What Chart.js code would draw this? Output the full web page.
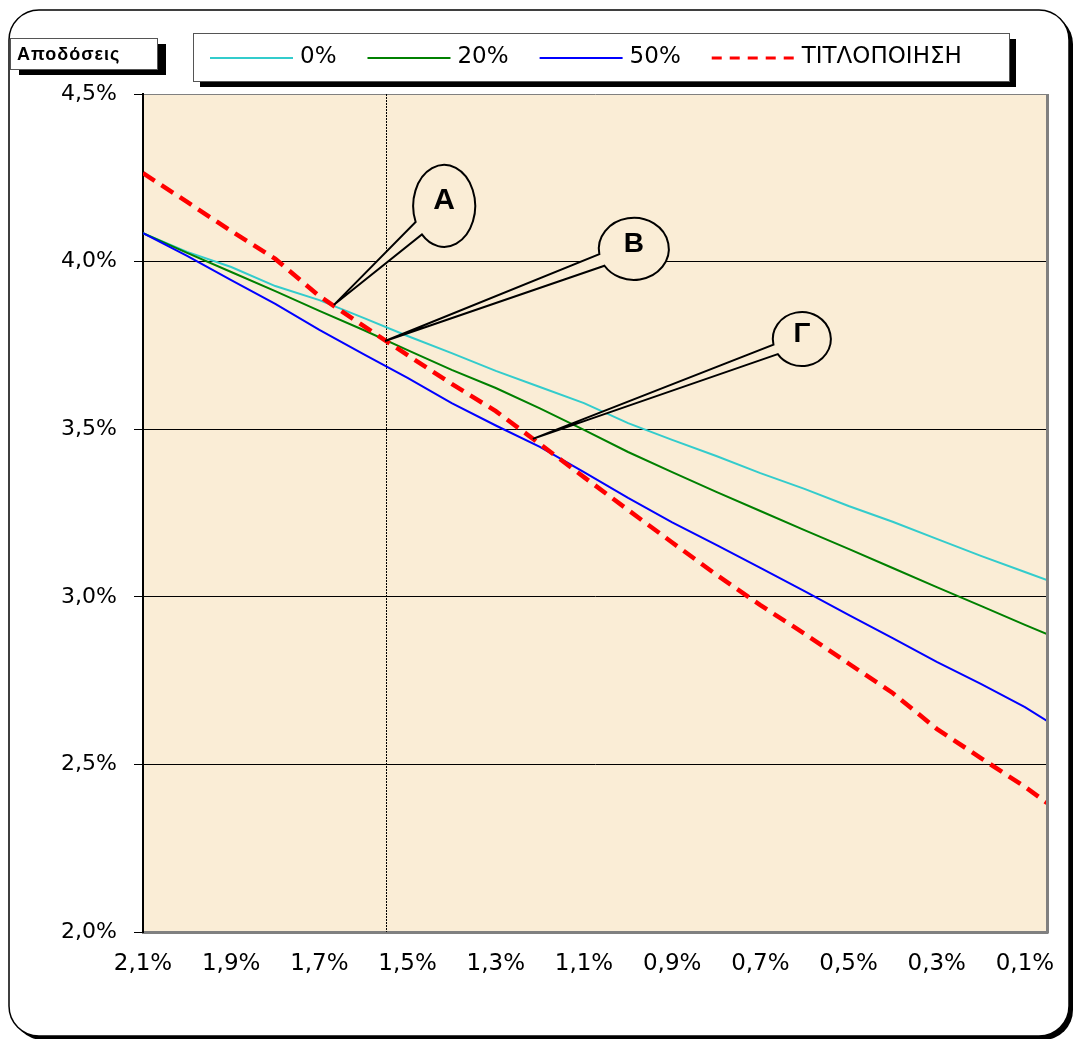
<!DOCTYPE html>
<html>
<head>
<meta charset="utf-8">
<script src="https://cdn.jsdelivr.net/npm/chart.js@4.4.1/dist/chart.umd.min.js"></script>
<style>
  html, body { margin: 0; padding: 0; background: #fff; }
  #wrap { width: 1078px; height: 1039px; position: relative; }
</style>
</head>
<body>
<div id="wrap"><canvas id="chart-yields"></canvas></div>
<script>
// x values (% rate, decreasing from left to right)
const xValues = [2.1, 2.0, 1.9, 1.8, 1.7, 1.6, 1.5, 1.4, 1.3, 1.2, 1.1, 1.0, 0.9, 0.8, 0.7, 0.6, 0.5, 0.4, 0.3, 0.2, 0.1, 0.05];
const xTickValues = [2.1, 1.9, 1.7, 1.5, 1.3, 1.1, 0.9, 0.7, 0.5, 0.3, 0.1];
const yTickValues = [2.0, 2.5, 3.0, 3.5, 4.0, 4.5];

const seriesLabels = ['0%', '20%', '50%', 'ΤΙΤΛΟΠΟΙΗΣΗ'];
const yield0 = [4.085, 4.029, 3.984, 3.927, 3.885, 3.832, 3.778, 3.727, 3.674, 3.626, 3.578, 3.518, 3.468, 3.420, 3.369, 3.322, 3.271, 3.224, 3.173, 3.122, 3.074, 3.050];
const yield20 = [4.085, 4.026, 3.969, 3.912, 3.853, 3.796, 3.736, 3.677, 3.623, 3.562, 3.498, 3.432, 3.372, 3.313, 3.256, 3.199, 3.143, 3.086, 3.029, 2.973, 2.916, 2.889];
const yield50 = [4.085, 4.017, 3.945, 3.874, 3.796, 3.724, 3.653, 3.578, 3.511, 3.447, 3.372, 3.295, 3.222, 3.155, 3.086, 3.017, 2.946, 2.877, 2.806, 2.740, 2.671, 2.630];
const yieldSecur = [4.264, 4.178, 4.091, 4.008, 3.897, 3.808, 3.721, 3.635, 3.554, 3.456, 3.357, 3.259, 3.162, 3.066, 2.975, 2.890, 2.801, 2.713, 2.606, 2.519, 2.433, 2.385];

// vertical marker and callouts, in data units
const markerX = 1.55;
const calloutLabels = ['Α', 'Β', 'Γ'];
const calloutTargetX = [1.667, 1.551, 1.216];
const calloutTargetY = [3.871, 3.763, 3.471];
const calloutCenterX = [1.417, 0.987, 0.606];
const calloutCenterY = [4.166, 4.038, 3.769];

const PLOT_BG = '#FAEDD6';
const TICK_FONT = "'DejaVu Sans', sans-serif";

function pts(ys) {
    return xValues.map((x, i) => ({ x: x, y: ys[i] }));
}

function fmtPct(v) {
    return Number(v).toFixed(1).replace('.', ',') + '%';
}

function roundRect(ctx, x, y, w, h, r) {
    ctx.beginPath();
    ctx.moveTo(x + r, y);
    ctx.lineTo(x + w - r, y);
    ctx.arcTo(x + w, y, x + w, y + r, r);
    ctx.lineTo(x + w, y + h - r);
    ctx.arcTo(x + w, y + h, x + w - r, y + h, r);
    ctx.lineTo(x + r, y + h);
    ctx.arcTo(x, y + h, x, y + h - r, r);
    ctx.lineTo(x, y + r);
    ctx.arcTo(x, y, x + r, y, r);
    ctx.closePath();
}

function shadowBox(ctx, x, y, w, h, dx, dy) {
    ctx.fillStyle = '#000';
    ctx.fillRect(x + dx, y + dy, w, h);
    ctx.fillStyle = '#fff';
    ctx.fillRect(x, y, w, h);
    ctx.strokeStyle = '#555';
    ctx.lineWidth = 1;
    ctx.strokeRect(x + 0.5, y + 0.5, w, h);
}

// pointer size/shape of each callout (pixels, degrees)
const calloutShape = [
    { rx: 31, ry: 41, a1: 136, a2: 157, font: 30 },
    { rx: 35, ry: 31, a1: 147, a2: 170, font: 28 },
    { rx: 29, ry: 27, a1: 146, a2: 168, font: 28 }
];

const framePlugin = {
    id: 'frame',
    beforeDraw(chart) {
        const ctx = chart.ctx;
        const a = chart.chartArea;
        ctx.save();
        ctx.fillStyle = '#fff';
        ctx.fillRect(0, 0, chart.width, chart.height);
        // outer rounded frame with shadow
        roundRect(ctx, 13, 14, 1060, 1026, 30);
        ctx.fillStyle = '#000';
        ctx.fill();
        roundRect(ctx, 9, 10, 1060, 1026, 30);
        ctx.fillStyle = '#fff';
        ctx.fill();
        ctx.strokeStyle = '#000';
        ctx.lineWidth = 1.5;
        ctx.stroke();
        // plot background
        ctx.fillStyle = PLOT_BG;
        ctx.fillRect(a.left, a.top, a.right - a.left, a.bottom - a.top);
        ctx.restore();
    },
    beforeDatasetsDraw(chart) {
        const ctx = chart.ctx;
        const a = chart.chartArea;
        const px = chart.scales.x.getPixelForValue(markerX);
        ctx.save();
        ctx.strokeStyle = '#000';
        ctx.lineWidth = 1;
        ctx.setLineDash([2, 1]);
        ctx.beginPath();
        ctx.moveTo(Math.round(px) + 0.5, a.top);
        ctx.lineTo(Math.round(px) + 0.5, a.bottom);
        ctx.stroke();
        ctx.restore();
    },
    afterDatasetsDraw(chart) {
        const ctx = chart.ctx;
        const xs = chart.scales.x, ys = chart.scales.y;
        ctx.save();
        calloutLabels.forEach((lab, i) => {
            const s = calloutShape[i];
            const cx = xs.getPixelForValue(calloutCenterX[i]);
            const cy = ys.getPixelForValue(calloutCenterY[i]);
            const tx = xs.getPixelForValue(calloutTargetX[i]);
            const ty = ys.getPixelForValue(calloutTargetY[i]);
            const a1 = s.a1 * Math.PI / 180, a2 = s.a2 * Math.PI / 180;
            ctx.beginPath();
            ctx.ellipse(cx, cy, s.rx, s.ry, 0, a2, a1 + Math.PI * 2);
            ctx.lineTo(tx, ty);
            ctx.closePath();
            ctx.fillStyle = PLOT_BG;
            ctx.fill();
            ctx.strokeStyle = '#000';
            ctx.lineWidth = 2;
            ctx.lineJoin = 'miter';
            ctx.stroke();
            ctx.fillStyle = '#000';
            ctx.font = 'bold ' + s.font + "px 'Liberation Sans', Arial, sans-serif";
            ctx.textAlign = 'center';
            ctx.textBaseline = 'middle';
            ctx.fillText(lab, cx, cy - 5);
        });
        ctx.restore();
    },
    afterDraw(chart) {
        const ctx = chart.ctx;
        const a = chart.chartArea;
        ctx.save();
        // right edge of plot frame
        ctx.strokeStyle = '#808080';
        ctx.lineWidth = 3;
        ctx.beginPath();
        ctx.moveTo(a.right + 0.5, a.top);
        ctx.lineTo(a.right + 0.5, a.bottom + 1.5);
        ctx.stroke();

        // axis title box
        shadowBox(ctx, 10, 38, 147, 31, 9, 6);
        ctx.fillStyle = '#000';
        ctx.font = "bold 18px 'Liberation Sans', Arial, sans-serif";
        ctx.textAlign = 'left';
        ctx.textBaseline = 'middle';
        ctx.letterSpacing = '1px';
        ctx.fillText('Αποδόσεις', 17, 55);
        ctx.letterSpacing = '0px';

        // legend box
        shadowBox(ctx, 193, 33, 816, 48, 7, 6);
        let x = 210;
        const ly = 58;
        ctx.font = "23px " + TICK_FONT;
        chart.data.datasets.forEach(ds => {
            ctx.strokeStyle = ds.borderColor;
            ctx.lineWidth = Math.min(ds.borderWidth, 3);
            ctx.setLineDash(ds.borderDash ? [10, 8] : []);
            ctx.beginPath();
            ctx.moveTo(x, ly);
            ctx.lineTo(x + 83, ly);
            ctx.stroke();
            ctx.setLineDash([]);
            ctx.fillStyle = '#000';
            ctx.fillText(ds.label, x + 90, ly - 1);
            x += 90 + ctx.measureText(ds.label).width + 31;
        });
        ctx.restore();
    }
};

function initializeYieldChart() {
    const el = document.getElementById('chart-yields');
    new Chart(el, {
        type: 'line',
        data: {
            datasets: [
                {
                    label: seriesLabels[0],
                    data: pts(yield0),
                    borderColor: '#33CCCC',
                    borderWidth: 2,
                    order: 3
                },
                {
                    label: seriesLabels[1],
                    data: pts(yield20),
                    borderColor: '#008000',
                    borderWidth: 2,
                    order: 2
                },
                {
                    label: seriesLabels[2],
                    data: pts(yield50),
                    borderColor: '#0000FF',
                    borderWidth: 2,
                    order: 1
                },
                {
                    label: seriesLabels[3],
                    data: pts(yieldSecur),
                    borderColor: '#FF0000',
                    borderWidth: 4.5,
                    borderDash: [14, 8],
                    order: 0
                }
            ]
        },
        options: {
            responsive: true,
            maintainAspectRatio: false,
            animation: false,
            layout: {
                padding: { left: 0, top: 94, right: 31, bottom: 47 }
            },
            elements: {
                point: { radius: 0 },
                line: { tension: 0, fill: false }
            },
            scales: {
                x: {
                    type: 'linear',
                    reverse: true,
                    min: 0.05,
                    max: 2.1,
                    afterBuildTicks: scale => {
                        scale.ticks = xTickValues.map(v => ({ value: v }));
                    },
                    afterFit: scale => { scale.height = 60; },
                    grid: { display: false, drawTicks: false },
                    border: { display: true, color: '#808080', width: 3 },
                    ticks: {
                        autoSkip: false,
                        maxRotation: 0,
                        padding: 18,
                        color: '#000',
                        font: { family: TICK_FONT, size: 23 },
                        callback: v => fmtPct(v)
                    }
                },
                y: {
                    min: 2.0,
                    max: 4.5,
                    afterBuildTicks: scale => {
                        scale.ticks = yTickValues.map(v => ({ value: v }));
                    },
                    afterFit: scale => { scale.width = 143; },
                    grid: {
                        color: c => c.tick.value === 2 ? 'rgba(0,0,0,0)' : (c.tick.value === 4.5 ? '#808080' : '#000'),
                        lineWidth: 1,
                        tickColor: '#000',
                        tickLength: 9
                    },
                    border: { display: true, color: '#000', width: 2 },
                    ticks: {
                        padding: 17,
                        color: '#000',
                        font: { family: TICK_FONT, size: 22 },
                        callback: v => fmtPct(v)
                    }
                }
            },
            plugins: {
                legend: { display: false },
                title: { display: false },
                tooltip: { enabled: false }
            }
        },
        plugins: [framePlugin]
    });
}

if (document.readyState === 'loading') {
    document.addEventListener('DOMContentLoaded', initializeYieldChart);
} else {
    initializeYieldChart();
}
</script>
</body>
</html>
